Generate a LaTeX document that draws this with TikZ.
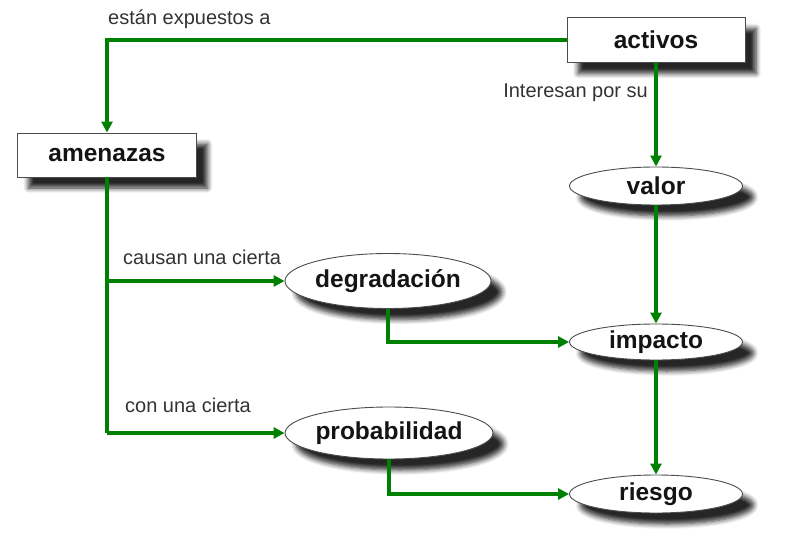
\documentclass[tikz,border=0pt]{standalone}
\usepackage{fontspec}
\setmainfont{Liberation Sans}
\usetikzlibrary{shapes.geometric,shadows.blur,arrows.meta}
\definecolor{lgreen}{RGB}{0,128,0}
\definecolor{txt}{RGB}{20,20,20}
\tikzset{
  shad/.style={blur shadow={shadow xshift=11pt,shadow yshift=-11pt,shadow blur steps=6,shadow blur radius=5pt,shadow opacity=85}},
  boxnode/.style={rectangle,draw=black!70,line width=0.9pt,fill=white,shad,inner sep=0pt,
    font=\fontsize{24.5}{28}\selectfont\bfseries,text=txt},
  ellnode/.style={ellipse,draw=black!70,line width=0.9pt,fill=white,shad,inner sep=0pt,
    font=\fontsize{24.5}{28}\selectfont\bfseries,text=txt},
  lbl/.style={font=\fontsize{20}{23}\selectfont,text=black!80,inner sep=0pt},
  conn/.style={draw=lgreen,line width=3.2pt,-{Triangle[length=11pt,width=11pt]}},
  line/.style={draw=lgreen,line width=3.2pt}
}
\begin{document}
\begin{tikzpicture}[x=1pt,y=-1pt]
\useasboundingbox (0,0) rectangle (810,537);
\node[boxnode,minimum width=178pt,minimum height=45pt] (act) at (656,40) {activos};
\node[boxnode,minimum width=179pt,minimum height=44pt] (ame) at (107,155) {amenazas};
\node[ellnode,minimum width=173pt,minimum height=38pt] (val) at (656,186) {valor};
\node[ellnode,minimum width=200pt,minimum height=55pt] (deg) at (388,281) {degradación};
\node[ellnode,minimum width=173pt,minimum height=36pt] (imp) at (656,342) {impacto};
\node[ellnode,minimum width=203pt,minimum height=52pt] (pro) at (389,433) {probabilidad};
\node[ellnode,minimum width=173pt,minimum height=38pt] (rie) at (656,494) {riesgo};

\coordinate (c1) at (107,40);
\coordinate (c2) at (107,281);
\coordinate (c3) at (107,433);

\path[conn] (act.west) -- (c1) -- (ame.north);
\path[conn] (act.south) -- (val.north);
\path[conn] (val.south) -- (imp.north);
\path[conn] (imp.south) -- (rie.north);
\path[line] (ame.south) -- (c3);
\path[conn] (c3) -- (pro.west);
\path[conn] (c2) -- (deg.west);
\path[conn] (deg.south) |- (imp.west);
\path[conn] (pro.south) |- (rie.west);

\node[lbl,anchor=west] (t1) at (108,19) {están expuestos a};
\node[lbl,anchor=east] (t2) at (648,93) {Interesan por su};
\node[lbl,anchor=west] (t3) at (123,257) {causan una cierta};
\node[lbl,anchor=west] (t4) at (125,405) {con una cierta};
\end{tikzpicture}
\end{document}
